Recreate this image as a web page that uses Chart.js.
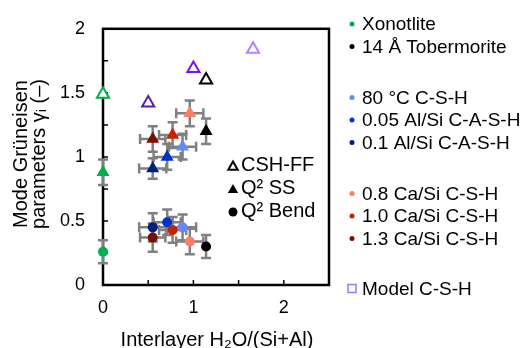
<!DOCTYPE html>
<html>
<head>
<meta charset="utf-8">
<script src="https://cdn.jsdelivr.net/npm/chart.js@4/dist/chart.umd.min.js"></script>
<style>
  html, body { margin: 0; padding: 0; background: #fff; }
  #wrap { width: 526px; height: 348px; }
</style>
</head>
<body>
<div id="wrap"><canvas id="chart" width="526" height="348"></canvas></div>
<script>
// samples measured (legend order)
const samples = ['Xonotlite', '14 Å Tobermorite', '80 °C C-S-H', '0.05 Al/Si C-A-S-H', '0.1 Al/Si C-A-S-H',
                 '0.8 Ca/Si C-S-H', '1.0 Ca/Si C-S-H', '1.3 Ca/Si C-S-H'];
const sampleColors = ['#00b050', '#000000', '#6688ff', '#0033cc', '#002080', '#ff7d66', '#c62300', '#7a1000'];
const waterRatio = [0, 1.14, 0.88, 0.71, 0.55, 0.96, 0.77, 0.55];
const waterErr = [0, 0, 0.15, 0.15, 0.15, 0.15, 0.15, 0.14];
const gammaSS = [0.88, 1.20, 1.08, 1.00, 0.91, 1.34, 1.17, 1.14];
const gammaSSErr = [0.10, 0.10, 0.10, 0.10, 0.08, 0.10, 0.10, 0.10];
const gammaBend = [0.26, 0.30, 0.45, 0.49, 0.45, 0.34, 0.43, 0.37];
const gammaBendErr = [0.09, 0.09, 0.10, 0.10, 0.11, 0.10, 0.10, 0.11];

// CSH-FF simulations
const ffWater = [0, 1.14, 0.5, 1.0, 1.66];
const ffGamma = [1.49, 1.60, 1.42, 1.69, 1.84];
const ffColors = ['#00b050', '#000000', '#5b1ea6', '#7d12f0', '#b482ff'];

const xTicks = { min: 0, max: 2.5, step: 0.5 };
const yTicks = { min: 0, max: 2, step: 0.25 };

const legendGroups = [[0, 1], [2, 3, 4], [5, 6, 7]];
const modelLabel = 'Model C-S-H';
const modelColor = '#a070ff';

const FONT = '"Liberation Sans", Arial, sans-serif';

const ssPoints = waterRatio.map((x, i) => ({ x: x, y: gammaSS[i] }));
const bendPoints = waterRatio.map((x, i) => ({ x: x, y: gammaBend[i] }));
const ffPoints = ffWater.map((x, i) => ({ x: x, y: ffGamma[i] }));

const extras = {
    id: 'extras',
    beforeDatasetsDraw(chart) {
        const { ctx, chartArea: a, scales: { x: xs, y: ys } } = chart;
        ctx.save();
        // frame
        ctx.strokeStyle = '#000';
        ctx.lineWidth = 2.5;
        ctx.strokeRect(a.left, a.top, a.right - a.left, a.bottom - a.top);
        // inward tick marks
        ctx.lineWidth = 1.5;
        ctx.beginPath();
        xs.ticks.forEach(t => {
            const px = xs.getPixelForValue(t.value);
            ctx.moveTo(px, a.bottom);
            ctx.lineTo(px, a.bottom - 5);
        });
        ys.ticks.forEach(t => {
            const py = ys.getPixelForValue(t.value);
            ctx.moveTo(a.left, py);
            ctx.lineTo(a.left + 5, py);
        });
        ctx.stroke();

        // error bars
        ctx.strokeStyle = '#808080';
        ctx.lineWidth = 2.5;
        const cap = 5;
        const bar = (x, y, dx, dy) => {
            const cx = xs.getPixelForValue(x), cy = ys.getPixelForValue(y);
            ctx.beginPath();
            if (dx > 0) {
                const l = xs.getPixelForValue(x - dx), r = xs.getPixelForValue(x + dx);
                ctx.moveTo(l, cy); ctx.lineTo(r, cy);
                ctx.moveTo(l, cy - cap); ctx.lineTo(l, cy + cap);
                ctx.moveTo(r, cy - cap); ctx.lineTo(r, cy + cap);
            }
            if (dy > 0) {
                const t = ys.getPixelForValue(y + dy), b = ys.getPixelForValue(y - dy);
                ctx.moveTo(cx, t); ctx.lineTo(cx, b);
                ctx.moveTo(cx - cap, t); ctx.lineTo(cx + cap, t);
                ctx.moveTo(cx - cap, b); ctx.lineTo(cx + cap, b);
            }
            ctx.stroke();
        };
        waterRatio.forEach((w, i) => {
            bar(w, gammaSS[i], waterErr[i], gammaSSErr[i]);
            bar(w, gammaBend[i], waterErr[i], gammaBendErr[i]);
        });
        ctx.restore();
    },
    afterDraw(chart) {
        const { ctx } = chart;
        ctx.save();
        ctx.fillStyle = '#000';

        // axis titles
        ctx.font = '20px ' + FONT;
        ctx.textAlign = 'center';
        ctx.textBaseline = 'alphabetic';
        ctx.fillText('Interlayer H₂O/(Si+Al)', 217, 346);
        ctx.save();
        ctx.translate(27, 154);
        ctx.rotate(-Math.PI / 2);
        ctx.fillText('Mode Grüneisen', 0, 0);
        ctx.restore();
        ctx.save();
        ctx.translate(45, 154);
        ctx.rotate(-Math.PI / 2);
        ctx.fillText('parameters γᵢ (–)', 0, 0);
        ctx.restore();

        // inner legend (symbol types)
        ctx.textAlign = 'left';
        ctx.textBaseline = 'middle';
        const tri = (x, y, r) => {
            ctx.beginPath();
            ctx.moveTo(x, y - r);
            ctx.lineTo(x + r * 0.866, y + r * 0.5);
            ctx.lineTo(x - r * 0.866, y + r * 0.5);
            ctx.closePath();
        };
        ctx.strokeStyle = '#000';
        ctx.lineWidth = 2;
        tri(233, 167, 5.5); ctx.stroke();
        tri(233, 190, 6); ctx.fill();
        ctx.beginPath(); ctx.arc(233, 212, 4.5, 0, Math.PI * 2); ctx.fill();
        ctx.fillText('CSH-FF', 241, 165);
        ctx.fillText('Q² SS', 241, 188);
        ctx.fillText('Q² Bend', 241, 211);

        // sample legend
        ctx.font = '19px ' + FONT;
        let y = 24;
        legendGroups.forEach((g, gi) => {
            if (gi > 0) y += 51;
            g.forEach((si, k) => {
                if (k > 0) y += 22.5;
                ctx.fillStyle = sampleColors[si];
                ctx.beginPath(); ctx.arc(352, y, 2.5, 0, Math.PI * 2); ctx.fill();
                ctx.fillStyle = '#000';
                ctx.fillText(samples[si], 362, y + 1);
            });
        });
        y += 50;
        ctx.strokeStyle = modelColor;
        ctx.lineWidth = 1.5;
        ctx.strokeRect(348, y - 4, 8, 8);
        ctx.fillStyle = '#000';
        ctx.fillText(modelLabel, 362, y + 1);
        ctx.restore();
    }
};

new Chart(document.getElementById('chart'), {
    type: 'scatter',
    data: {
        datasets: [
            {
                label: 'CSH-FF',
                data: ffPoints,
                clip: false,
                pointStyle: 'triangle',
                pointRadius: 7,
                pointBorderWidth: 2,
                pointBackgroundColor: '#fff',
                pointBorderColor: ffColors
            },
            {
                label: 'Q² SS',
                data: ssPoints,
                clip: false,
                pointStyle: 'triangle',
                pointRadius: 7.5,
                pointBorderWidth: 0,
                pointBackgroundColor: sampleColors,
                pointBorderColor: sampleColors
            },
            {
                label: 'Q² Bend',
                data: bendPoints,
                clip: false,
                pointStyle: 'circle',
                pointRadius: 5,
                pointBorderWidth: 0,
                pointBackgroundColor: sampleColors,
                pointBorderColor: sampleColors
            }
        ]
    },
    options: {
        responsive: false,
        animation: false,
        layout: { padding: { left: 0, top: 19, right: 197, bottom: 0 } },
        plugins: { legend: { display: false }, tooltip: { enabled: false } },
        scales: {
            x: {
                type: 'linear',
                min: xTicks.min,
                max: xTicks.max,
                grid: { display: false, drawTicks: false },
                border: { display: false },
                ticks: {
                    stepSize: xTicks.step,
                    autoSkip: false,
                    maxRotation: 0,
                    padding: 12,
                    color: '#000',
                    font: { family: FONT, size: 18 },
                    callback: v => (Number.isInteger(v) ? String(v) : '')
                },
                afterFit: s => { s.height = 63; }
            },
            y: {
                type: 'linear',
                min: yTicks.min,
                max: yTicks.max,
                grid: { display: false, drawTicks: false },
                border: { display: false },
                ticks: {
                    stepSize: yTicks.step,
                    autoSkip: false,
                    padding: 18,
                    color: '#000',
                    font: { family: FONT, size: 18 },
                    callback: v => (Math.abs(v * 2 - Math.round(v * 2)) < 1e-9 ? String(v) : '')
                },
                afterFit: s => { s.width = 103; }
            }
        }
    },
    plugins: [extras]
});
</script>
</body>
</html>
